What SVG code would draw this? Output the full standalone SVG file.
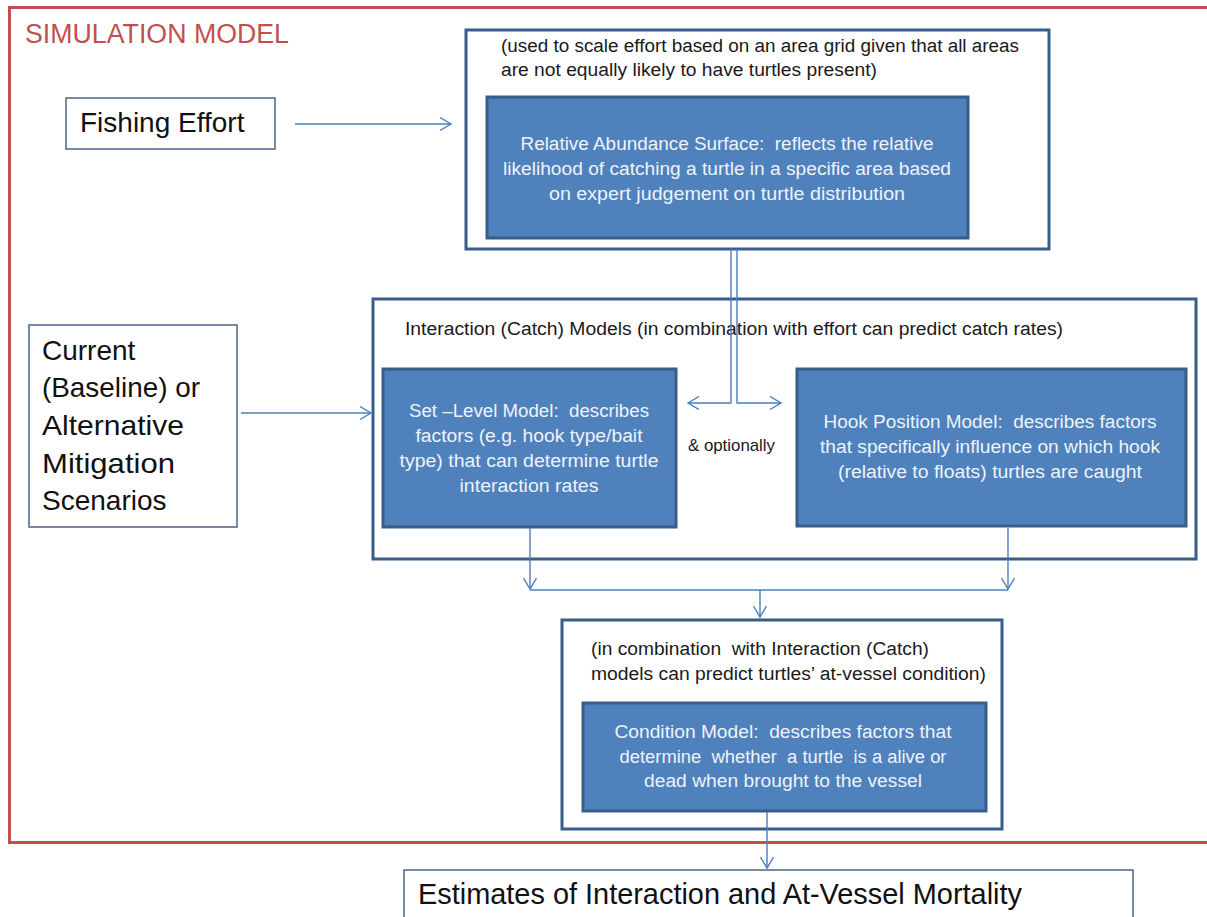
<svg xmlns="http://www.w3.org/2000/svg" width="1207" height="917" viewBox="0 0 1207 917">
<defs>
<style>
text{font-family:"Liberation Sans",Arial,sans-serif;white-space:pre;}
.frame{fill:none;stroke:#c0504d;stroke-width:3;}
.title{font-size:27px;fill:#c0504d;}
.plain{fill:#ffffff;stroke:#4a6484;stroke-width:1.5;}
.cont{fill:#ffffff;stroke:#385d8a;stroke-width:3;}
.blue{fill:#4f81bd;stroke:#385d8a;stroke-width:3;}
.big{font-size:28px;fill:#111111;}
.body{font-size:18px;fill:#1a1a1a;}
.wt{font-size:18px;fill:#eef3fa;text-anchor:middle;}
.small{font-size:17px;fill:#1a1a1a;}
.conn{fill:none;stroke:#4a7ebb;stroke-width:1.4;}
</style>
<marker id="arr" markerUnits="userSpaceOnUse" markerWidth="14" markerHeight="16" refX="12" refY="7" orient="auto">
<path d="M1,0.5 L12,7 L1,13.5" fill="none" stroke="#4a7ebb" stroke-width="1.4"/>
</marker>
</defs>
<rect x="0" y="0" width="1207" height="917" fill="#ffffff"/>

<g id="simulation-frame">
<rect class="frame" x="9.5" y="7.5" width="1215" height="835"/>
<text class="title" x="25" y="43" textLength="264" lengthAdjust="spacingAndGlyphs">SIMULATION MODEL</text>
</g>

<g id="fishing-effort">
<rect class="plain" x="66" y="98" width="209" height="51"/>
<text class="big" x="80" y="132">Fishing Effort</text>
</g>

<g id="current-scenarios">
<rect class="plain" x="29" y="325" width="208" height="202"/>
<text class="big" x="42" y="360">Current</text>
<text class="big" x="42" y="397" textLength="158" lengthAdjust="spacingAndGlyphs">(Baseline) or</text>
<text class="big" x="42" y="435" textLength="142" lengthAdjust="spacingAndGlyphs">Alternative</text>
<text class="big" x="42" y="473" textLength="133" lengthAdjust="spacingAndGlyphs">Mitigation</text>
<text class="big" x="42" y="510">Scenarios</text>
</g>

<g id="abundance-container">
<rect class="cont" x="466" y="30" width="583" height="219"/>
<text class="body" x="501" y="52" textLength="518" lengthAdjust="spacingAndGlyphs">(used to scale effort based on an area grid given that all areas</text>
<text class="body" x="501" y="76" textLength="376" lengthAdjust="spacingAndGlyphs">are not equally likely to have turtles present)</text>
</g>

<g id="relative-abundance">
<rect class="blue" x="487" y="97" width="481" height="141"/>
<text class="wt" x="727" y="150" textLength="413" lengthAdjust="spacingAndGlyphs">Relative Abundance Surface:  reflects the relative</text>
<text class="wt" x="727" y="175" textLength="448" lengthAdjust="spacingAndGlyphs">likelihood of catching a turtle in a specific area based</text>
<text class="wt" x="727" y="200" textLength="356" lengthAdjust="spacingAndGlyphs">on expert judgement on turtle distribution</text>
</g>

<g id="interaction-container">
<rect class="cont" x="373" y="299" width="823" height="260"/>
<text class="body" x="405" y="335" textLength="658" lengthAdjust="spacingAndGlyphs">Interaction (Catch) Models (in combination with effort can predict catch rates)</text>
</g>

<g id="set-level-model">
<rect class="blue" x="383" y="369" width="293" height="158"/>
<text class="wt" x="529" y="417" textLength="240" lengthAdjust="spacingAndGlyphs">Set –Level Model:  describes</text>
<text class="wt" x="529" y="442" textLength="227" lengthAdjust="spacingAndGlyphs">factors (e.g. hook type/bait</text>
<text class="wt" x="529" y="467" textLength="259" lengthAdjust="spacingAndGlyphs">type) that can determine turtle</text>
<text class="wt" x="529" y="492" textLength="139" lengthAdjust="spacingAndGlyphs">interaction rates</text>
</g>

<g id="optionally-label">
<text class="small" x="688" y="451" textLength="87" lengthAdjust="spacingAndGlyphs">&amp; optionally</text>
</g>

<g id="hook-position-model">
<rect class="blue" x="797" y="369" width="389" height="157"/>
<text class="wt" x="990" y="428" textLength="333" lengthAdjust="spacingAndGlyphs">Hook Position Model:  describes factors</text>
<text class="wt" x="990" y="453" textLength="340" lengthAdjust="spacingAndGlyphs">that specifically influence on which hook</text>
<text class="wt" x="990" y="478" textLength="304" lengthAdjust="spacingAndGlyphs">(relative to floats) turtles are caught</text>
</g>

<g id="condition-container">
<rect class="cont" x="562" y="620" width="440" height="209"/>
<text class="body" x="591" y="655" textLength="338" lengthAdjust="spacingAndGlyphs">(in combination  with Interaction (Catch)</text>
<text class="body" x="591" y="680" textLength="395" lengthAdjust="spacingAndGlyphs">models can predict turtles’ at-vessel condition)</text>
</g>

<g id="condition-model">
<rect class="blue" x="583" y="703" width="403" height="108"/>
<text class="wt" x="783" y="738" textLength="337" lengthAdjust="spacingAndGlyphs">Condition Model:  describes factors that</text>
<text class="wt" x="783" y="763" textLength="327" lengthAdjust="spacingAndGlyphs">determine  whether  a turtle  is a alive or</text>
<text class="wt" x="783" y="787" textLength="278" lengthAdjust="spacingAndGlyphs">dead when brought to the vessel</text>
</g>

<g id="estimates">
<rect class="plain" x="404" y="870" width="729" height="70"/>
<text class="big" x="418" y="904" style="font-size:29px" textLength="604" lengthAdjust="spacingAndGlyphs">Estimates of Interaction and At-Vessel Mortality</text>
</g>

<g id="connectors">
<line class="conn" x1="295" y1="124" x2="451" y2="124" marker-end="url(#arr)"/>
<line class="conn" x1="241" y1="413" x2="371" y2="413" marker-end="url(#arr)"/>
<polyline class="conn" points="731,249 731,403 688,403" marker-end="url(#arr)"/>
<polyline class="conn" points="737,249 737,403 781,403" marker-end="url(#arr)"/>
<line class="conn" x1="530" y1="527" x2="530" y2="589" marker-end="url(#arr)"/>
<line class="conn" x1="1008" y1="526" x2="1008" y2="589" marker-end="url(#arr)"/>
<line class="conn" x1="530" y1="590" x2="1008" y2="590"/>
<line class="conn" x1="760" y1="590" x2="760" y2="617" marker-end="url(#arr)"/>
<line class="conn" x1="767" y1="812" x2="767" y2="868" marker-end="url(#arr)"/>
</g>
</svg>
